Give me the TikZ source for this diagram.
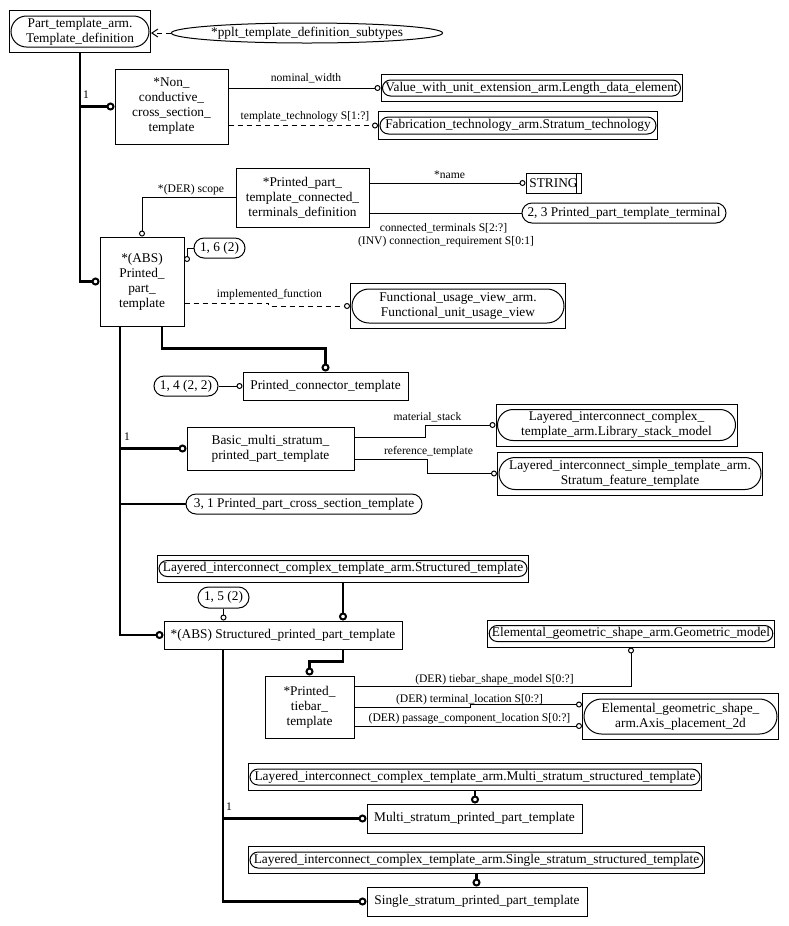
\documentclass[tikz,border=0pt]{standalone}
\usepackage{fontspec}
\setmainfont{Liberation Serif}
\usetikzlibrary{arrows.meta,shapes.geometric,shapes.misc,fit}

\tikzset{
  every node/.style={font=\fontsize{10}{11.25}\selectfont},
  entity/.style 2 args={draw,line width=0.75pt,minimum width={#1*0.75pt},
    minimum height={#2*0.75pt},inner sep=0pt,align=center},
  roundbox/.style 2 args={draw,line width=0.75pt,rounded rectangle,
    minimum width={#1*0.75pt},minimum height={#2*0.75pt},inner sep=0pt,align=center},
  refframe/.style={draw,line width=0.75pt,inner xsep=0.75pt,inner ysep=3.75pt,fit=#1},
  lbl/.style={font=\fontsize{8.7}{10}\selectfont,inner sep=0pt},
  rel/.style={line width=0.75pt,-{Circle[open,length=4.5pt,width=4.5pt]}},
  relopt/.style={rel,dash pattern=on 3.75pt off 3pt},
  sub/.style={line width=2pt,-{Circle[open,length=6pt,width=6pt,line width=1.5pt]}},
  subline/.style={line width=2pt},
}

\begin{document}
\begin{tikzpicture}[x=0.75pt,y=-0.75pt]
  \useasboundingbox (0,0) rectangle (789,926);

  % entities and referenced types
  \node[roundbox={138}{31}] (tempdef) at (80,31.5) {Part\_template\_arm.\\Template\_definition};
  \node[refframe=(tempdef)] (tempdefbox) {};
  \node[draw,ellipse,line width=0.75pt,minimum width={268*0.75pt},minimum height={20*0.75pt},
    inner sep=0pt] (subtypes) at (307,33) {*pplt\_template\_definition\_subtypes};

  \node[entity={113}{75}] (noncond) at (171.5,106.5) {*Non\_\\conductive\_\\cross\_section\_\\template};
  \node[roundbox={298}{16}] (lengthel) at (531.5,88) {Value\_with\_unit\_extension\_arm.Length\_data\_element};
  \node[refframe=(lengthel)] (lengthelbox) {};
  \node[roundbox={276}{17}] (stratech) at (518,125.5) {Fabrication\_technology\_arm.Stratum\_technology};
  \node[refframe=(stratech)] (stratechbox) {};

  \node[entity={133}{59}] (conndef) at (302.5,197.5) {*Printed\_part\_\\template\_connected\_\\terminals\_definition};
  \node[entity={55}{20}] (string) at (553.5,183) {STRING};
  \draw[line width=0.75pt] ([xshift=-3.75pt]string.north east) -- ([xshift=-3.75pt]string.south east);
  \node[roundbox={204}{20}] (terminal) at (624,213) {2, 3 Printed\_part\_template\_terminal};

  \node[entity={84}{89}] (ppt) at (142,281.5) {*(ABS)\\Printed\_\\part\_\\template};
  \node[roundbox={51}{20}] (ref16) at (219.5,248) {1, 6 (2)};
  \node[roundbox={212}{34}] (funcunit) at (458,306) {Functional\_usage\_view\_arm.\\Functional\_unit\_usage\_view};
  \node[refframe=(funcunit)] (funcunitbox) {};

  \node[entity={165}{28}] (connector) at (325.5,386) {Printed\_connector\_template};
  \node[roundbox={64}{20}] (ref14) at (186,386) {1, 4 (2, 2)};

  \node[entity={167}{43}] (basic) at (270.5,448.5) {Basic\_multi\_stratum\_\\printed\_part\_template};
  \node[roundbox={236}{20}] (crosssec) at (304,504) {3, 1 Printed\_part\_cross\_section\_template};
  \node[roundbox={238}{31}] (stackmodel) at (616.5,425) {Layered\_interconnect\_complex\_\\template\_arm.Library\_stack\_model};
  \node[refframe=(stackmodel)] (stackmodelbox) {};
  \node[roundbox={262}{32}] (featuretpl) at (630,473.5) {Layered\_interconnect\_simple\_template\_arm.\\Stratum\_feature\_template};
  \node[refframe=(featuretpl)] (featuretplbox) {};

  \node[roundbox={368}{16}] (structtpl) at (343,568.5) {Layered\_interconnect\_complex\_template\_arm.Structured\_template};
  \node[refframe=(structtpl)] (structtplbox) {};
  \node[entity={238}{28}] (structppt) at (283,635) {*(ABS) Structured\_printed\_part\_template};
  \node[roundbox={51}{21}] (ref15) at (223.5,597.5) {1, 5 (2)};

  \node[entity={89}{62}] (tiebar) at (309.5,707) {*Printed\_\\tiebar\_\\template};
  \node[roundbox={282}{16}] (geommodel) at (631,633.5) {Elemental\_geometric\_shape\_arm.Geometric\_model};
  \node[refframe=(geommodel)] (geommodelbox) {};
  \node[roundbox={193}{35}] (axisplace) at (680.5,716.5) {Elemental\_geometric\_shape\_\\arm.Axis\_placement\_2d};
  \node[refframe=(axisplace)] (axisplacebox) {};

  \node[roundbox={450}{16}] (multitpl) at (475,777) {Layered\_interconnect\_complex\_template\_arm.Multi\_stratum\_structured\_template};
  \node[refframe=(multitpl)] (multitplbox) {};
  \node[entity={215}{29}] (multippt) at (474.5,818.5) {Multi\_stratum\_printed\_part\_template};
  \node[roundbox={453}{16}] (singletpl) at (476.5,860) {Layered\_interconnect\_complex\_template\_arm.Single\_stratum\_structured\_template};
  \node[refframe=(singletpl)] (singletplbox) {};
  \node[entity={220}{29}] (singleppt) at (477,901.5) {Single\_stratum\_printed\_part\_template};

  % subtype lines
  \draw[line width=0.75pt,dash pattern=on 3.75pt off 3pt,-{Straight Barb[length=4.5pt,width=6pt]}]
    (subtypes.west) -- (subtypes.west -| tempdefbox.east);
  \draw[sub] (tempdefbox.south) |- (ppt.west);
  \draw[sub] (tempdefbox.south |- noncond.west) -- (noncond.west);
  \node[lbl] (one1) at (86,95) {1};

  \coordinate (trunk) at ([xshift=-16.5pt]ppt.south);
  \draw[sub] (trunk) |- (structppt.west);
  \draw[sub] (trunk |- basic.west) -- (basic.west);
  \node[lbl] (one2) at (127,437) {1};
  \draw[subline] (trunk |- crosssec.west) -- (crosssec.west);
  \draw[sub] ([xshift=15pt]ppt.south) -- ++(0,22) -| (connector.north);

  \draw[sub] (structtplbox.south) -- (structtplbox.south |- structppt.north);
  \draw[sub] (structppt.south -| structtplbox.south) -- ++(0,12) -| (tiebar.north);
  \coordinate (trunkb) at ([xshift=-45pt]structppt.south);
  \draw[sub] (trunkb) |- (singleppt.west);
  \draw[sub] (trunkb |- multippt.west) -- (multippt.west);
  \node[lbl] (one3) at (229,807) {1};
  \draw[sub] (multitplbox.south) -- (multitplbox.south |- multippt.north);
  \draw[sub] (singletplbox.south) -- (singletplbox.south |- singleppt.north);

  % attributes
  \draw[rel] (lengthelbox.west -| noncond.east) -- (lengthelbox.west);
  \node[lbl] (nomwidth) at (306,78) {nominal\_width};
  \draw[relopt] (stratechbox.west -| noncond.east) -- (stratechbox.west);
  \node[lbl] (temptech) at (305,117) {template\_technology S[1:?]};

  \draw[rel] (conndef.west) -| (ppt.north);
  \node[lbl] (scope) at (191,190) {*(DER) scope};
  \draw[rel] (string.west -| conndef.east) -- (string.west);
  \node[lbl] (name) at (449.5,175) {*name};
  \draw[line width=0.75pt] (terminal.west -| conndef.east) -- (terminal.west);
  \node[lbl] (connterm) at (443.5,228) {connected\_terminals S[2:?]};
  \node[lbl] (connreq) at (446,242) {(INV) connection\_requirement S[0:1]};

  \coordinate (ref16end) at (187,262);
  \draw[rel] (ref16.west) -| (ref16end);
  \draw[relopt] (funcunitbox.west -| ppt.east) ++(0,-3) -- ++(84,0) |- (funcunitbox.west);
  \node[lbl] (implfunc) at (269.5,295) {implemented\_function};

  \draw[rel] (ref14.east) -- (connector.west);

  \draw[rel] ([yshift=8.25pt]basic.east) -- ++(71,0) |- (stackmodelbox.west);
  \node[lbl] (matstack) at (427.5,417) {material\_stack};
  \draw[rel] ([yshift=-8.25pt]basic.east) -- ++(73,0) |- (featuretplbox.west);
  \node[lbl] (reftpl) at (428.5,452) {reference\_template};

  \draw[rel] (ref15.south) -- (ref15.south |- structppt.north);

  \draw[rel] ([yshift=15.75pt]tiebar.east) -| (geommodelbox.south);
  \node[lbl] (shapemodel) at (494.5,680) {(DER) tiebar\_shape\_model S[0:?]};
  \draw[rel] (tiebar.east) -- ++(116,0) |- ([yshift=9pt]axisplacebox.west);
  \node[lbl] (termloc) at (469.5,700) {(DER) terminal\_location S[0:?]};
  \draw[rel] ([yshift=-14.25pt]tiebar.east) -- ([yshift=-14.25pt]tiebar.east -| axisplacebox.west);
  \node[lbl] (passloc) at (469.5,719) {(DER) passage\_component\_location S[0:?]};
\end{tikzpicture}
\end{document}
